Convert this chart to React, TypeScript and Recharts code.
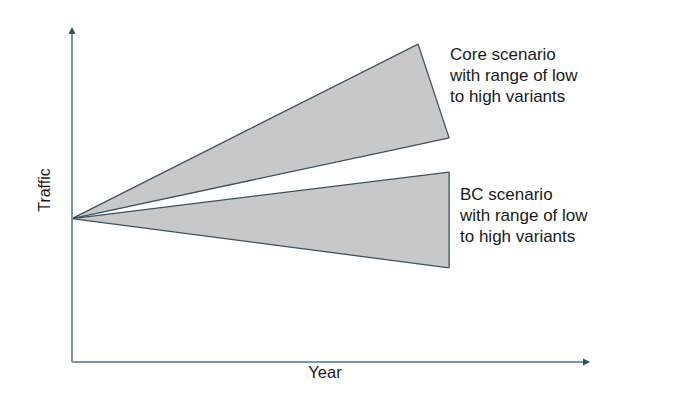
import React from "react";
import { ComposedChart, Area, XAxis, YAxis, ReferenceLine } from "recharts";

// Year positions (index scale 0..100) and traffic (index scale 0..100)
const years = [0, 66.8, 72.8];
const coreLow = [42.8, 64.9, 66.9];
const coreHigh = [42.8, 94.9, 66.9];
const bcLow: (number | null)[] = [42.8, null, 28.1];
const bcHigh: (number | null)[] = [42.8, null, 56.7];

const coreLines = ["Core scenario", "with range of low", "to high variants"];
const bcLines = ["BC scenario", "with range of low", "to high variants"];
const axisTitles = { x: "Year", y: "Traffic" };

const data = years.map((y, i) => ({
  year: y,
  core: [coreLow[i], coreHigh[i]],
  bc: bcLow[i] == null ? null : [bcLow[i], bcHigh[i]],
}));

const FILL = "#c8c8c8";
const EDGE = "#3c5160";
const AXIS = "#7896ad";
const ARROW = "#2d5069";
const FONT = "'Liberation Sans', Arial, sans-serif";

const arrowShape = (p: any) => {
  const { x1, y1, x2, y2 } = p;
  const dx = x2 - x1;
  const dy = y2 - y1;
  const len = Math.sqrt(dx * dx + dy * dy) || 1;
  const ux = dx / len;
  const uy = dy / len;
  const L = 7;
  const W = 3.5;
  const bx = x2 - ux * L;
  const by = y2 - uy * L;
  const pts = `${x2},${y2} ${bx - uy * W},${by + ux * W} ${bx + uy * W},${by - ux * W}`;
  return (
    <g>
      <line x1={x1} y1={y1} x2={bx} y2={by} stroke={AXIS} strokeWidth={2} />
      <polygon points={pts} fill={ARROW} />
    </g>
  );
};

export default function App() {
  return (
    <ComposedChart
      width={668}
      height={402}
      data={data}
      margin={{ top: 19, right: 86, bottom: 48, left: 64 }}
    >
      <XAxis dataKey="year" type="number" domain={[0, 100]} hide />
      <YAxis type="number" domain={[0, 100]} hide />
      <Area
        dataKey="core"
        type="linear"
        fill={FILL}
        fillOpacity={1}
        stroke={EDGE}
        strokeWidth={1.3}
        isAnimationActive={false}
        connectNulls
        dot={false}
        activeDot={false}
      />
      <Area
        dataKey="bc"
        type="linear"
        fill={FILL}
        fillOpacity={1}
        stroke={EDGE}
        strokeWidth={1.3}
        isAnimationActive={false}
        connectNulls
        dot={false}
        activeDot={false}
      />
      <ReferenceLine
        segment={[
          { x: years[2], y: bcLow[2] as number },
          { x: years[2], y: bcHigh[2] as number },
        ]}
        stroke={EDGE}
        strokeWidth={1.3}
      />
      <ReferenceLine
        segment={[
          { x: 0, y: 0 },
          { x: 0, y: 100 },
        ]}
        shape={arrowShape}
      />
      <ReferenceLine
        segment={[
          { x: 0, y: 0 },
          { x: 100, y: 0 },
        ]}
        shape={arrowShape}
      />
      <text x={442} y={52} fontFamily={FONT} fontSize={17} fill="#1a1a1a">
        {coreLines.map((t, i) => (
          <tspan key={i} x={442} dy={i === 0 ? 0 : 21}>
            {t}
          </tspan>
        ))}
      </text>
      <text x={452} y={192} fontFamily={FONT} fontSize={17} fill="#1a1a1a">
        {bcLines.map((t, i) => (
          <tspan key={i} x={452} dy={i === 0 ? 0 : 21}>
            {t}
          </tspan>
        ))}
      </text>
      <text
        x={317}
        y={370}
        textAnchor="middle"
        fontFamily={FONT}
        fontSize={16.5}
        fill="#1a1a1a"
      >
        {axisTitles.x}
      </text>
      <text
        x={42}
        y={182}
        textAnchor="middle"
        transform="rotate(-90 42 182)"
        fontFamily={FONT}
        fontSize={16}
        fill="#1a1a1a"
      >
        {axisTitles.y}
      </text>
    </ComposedChart>
  );
}
